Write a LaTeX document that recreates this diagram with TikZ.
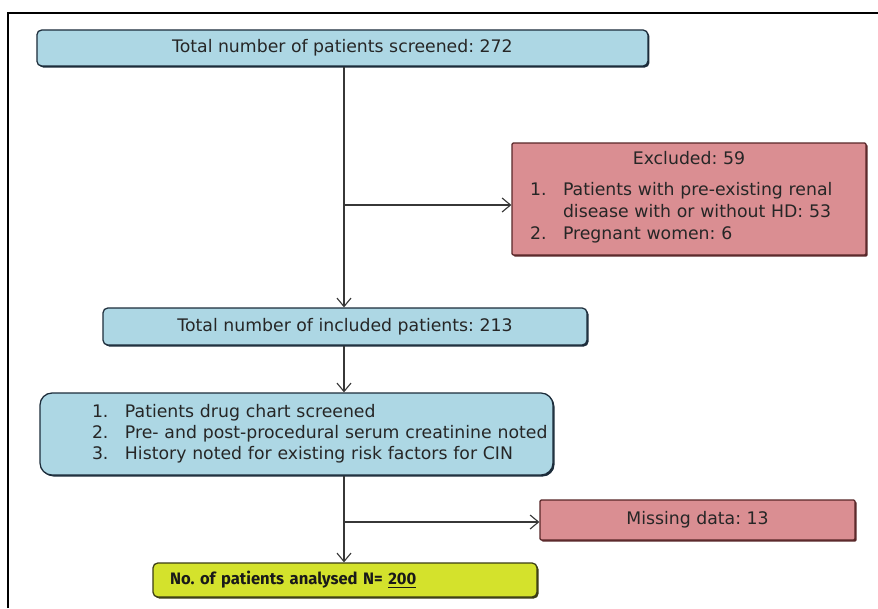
\documentclass[tikz,border=0pt]{standalone}
\usepackage{fontspec}
\setmainfont{DejaVu Sans}
\newfontfamily\firaFont{Fira Sans}
\usetikzlibrary{shadows,arrows.meta}
\definecolor{blueFill}{RGB}{173,215,228}
\definecolor{blueLine}{RGB}{28,44,58}
\definecolor{redFill}{RGB}{218,142,146}
\definecolor{redLine}{RGB}{88,38,40}
\definecolor{yellowFill}{RGB}{212,226,44}
\definecolor{yellowLine}{RGB}{58,60,20}
\definecolor{arrowGray}{RGB}{55,55,55}
\frenchspacing

\begin{document}
\begin{tikzpicture}[>={Straight Barb[length=6pt,width=10pt]}, line width=0.8pt]
	\useasboundingbox (0,0) rectangle (21.95,15.2);
	
	\tikzstyle{blueBox}=[draw=blueLine,fill=blueFill,line width=0.9pt,rounded corners=0.12cm,
		drop shadow={shadow xshift=1.1pt,shadow yshift=-1.1pt,fill=blueLine,opacity=1},
		text=black!85,font=\fontsize{12.3}{15.6}\selectfont]
	\tikzstyle{redBox}=[draw=redLine,fill=redFill,line width=0.9pt,rounded corners=0.03cm,
		drop shadow={shadow xshift=1.1pt,shadow yshift=-1.1pt,fill=redLine,opacity=1},
		text=black!85,font=\fontsize{12.3}{15.6}\selectfont]
	\tikzstyle{yellowBox}=[draw=yellowLine,fill=yellowFill,line width=0.9pt,rounded corners=0.12cm,
		drop shadow={shadow xshift=1.1pt,shadow yshift=-1.1pt,fill=yellowLine,opacity=1},
		text=black!90,font=\firaFont\bfseries\fontsize{11.8}{13}\selectfont]
	
	% frame
	\draw[line width=1.6pt] (0.2,0) -- (0.2,14.875) -- (21.95,14.875);
	
	\node[blueBox,minimum width=15.275cm,minimum height=0.9cm](screened) at (8.56,14.0){Total number of patients screened: 272};
	
	\node[redBox,minimum width=8.85cm,minimum height=2.8cm,text width=8.85cm,inner xsep=0pt,align=left](excluded) at (17.225,10.225){%
		\makebox[\linewidth]{Excluded: 59}\\[9.9pt]
		\begin{tabular}{@{\hspace{0.45cm}}p{0.825cm}@{}l@{}}
			1. & Patients with pre-existing renal\\
			   & disease with or without HD: 53\\
			2. & Pregnant women: 6
		\end{tabular}};
	
	\node[blueBox,minimum width=12.1cm,minimum height=0.925cm](included) at (8.625,7.0375){Total number of included patients: 213};
	
	\node[blueBox,rounded corners=0.3cm,minimum width=12.825cm,minimum height=2.05cm,text width=12.825cm,inner xsep=0pt,align=left,
		font=\fontsize{12.3}{14.9}\selectfont](procedure) at (7.4125,4.35){%
		\begin{tabular}{@{\hspace{1.3cm}}p{0.825cm}@{}l@{}}
			1. & Patients drug chart screened\\
			2. & Pre- and post-procedural serum creatinine noted\\
			3. & History noted for existing risk factors for CIN
		\end{tabular}};
	
	\node[redBox,minimum width=7.875cm,minimum height=1.0cm](missing) at (17.4375,2.2){Missing data: 13};
	
	\node[yellowBox,minimum width=9.6cm,minimum height=0.85cm,text width=8.75cm,inner xsep=0.425cm,align=left](analysed) at (8.625,0.7){No. of patients analysed N= \underline{200}};
	
	\coordinate(branchA) at (8.6,10.075);
	\coordinate(branchB) at (8.6,2.15);
	
	\draw[arrowGray] (screened.south -| branchA) -- (branchA);
	\draw[arrowGray,->] (branchA) -- (included.north -| branchA);
	\draw[arrowGray,->] (branchA) -- (branchA -| excluded.west);
	
	\draw[arrowGray,->] (included.south -| branchA) -- (procedure.north -| branchA);
	
	\draw[arrowGray] (procedure.south -| branchB) -- (branchB);
	\draw[arrowGray,->] (branchB) -- (analysed.north -| branchB);
	\draw[arrowGray,->] (branchB) -- (branchB -| missing.west);
	
\end{tikzpicture}
\end{document}
